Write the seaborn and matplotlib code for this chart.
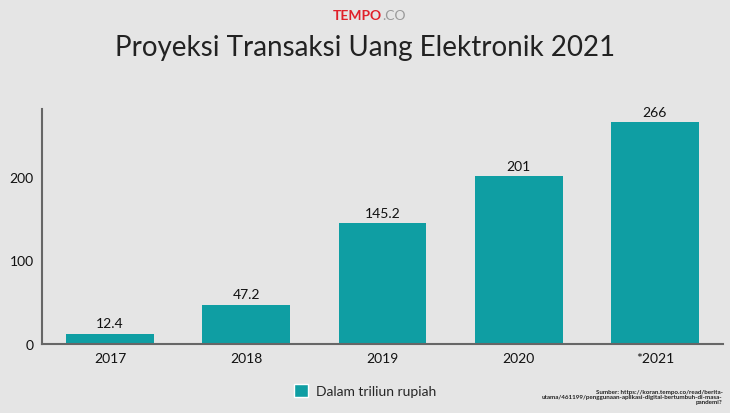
import matplotlib
matplotlib.use('Agg')
import matplotlib.pyplot as plt
import seaborn as sns
import pandas as pd
from matplotlib.patches import Patch

# chart data
years = ['2017', '2018', '2019', '2020', '*2021']
values = [12.4, 47.2, 145.2, 201, 266]
value_labels = ['12.4', '47.2', '145.2', '201', '266']
y_ticks = [0, 100, 200]

bg = '#e5e5e5'
teal = '#0f9ea3'

df = pd.DataFrame({'year': years, 'value': values})

sns.set_theme(style='white')
plt.rcParams['font.family'] = ['Lato', 'DejaVu Sans']

fig = plt.figure(figsize=(7.3, 4.14), dpi=100, facecolor=bg)
ax = fig.add_axes([0.0575, 0.1667, 0.933, 0.567])
ax.set_facecolor(bg)

sns.barplot(data=df, x='year', y='value', color=teal, saturation=1,
            width=0.645, linewidth=0, ax=ax)

for i, (v, lab) in enumerate(zip(values, value_labels)):
    ax.text(i, v + 5, lab, ha='center', va='bottom', fontsize=10, color='#111111')

ax.set_xlim(-0.5, 4.5)
ax.set_ylim(0, 281)
ax.set_yticks(y_ticks)
ax.set_xlabel('')
ax.set_ylabel('')
ax.tick_params(axis='both', labelsize=10, colors='#111111', length=0, pad=6)
for s in ['top', 'right']:
    ax.spines[s].set_visible(False)
for s in ['left', 'bottom']:
    ax.spines[s].set_color('#666666')
    ax.spines[s].set_linewidth(1.5)

# header
fig.text(0.5, 0.885, 'Proyeksi Transaksi Uang Elektronik 2021', ha='center', va='center',
         fontsize=20, color='#222222')
fig.text(0.523, 0.962, 'TEMPO', ha='right', va='center', fontsize=10,
         color='#e0202a', fontweight='bold')
fig.text(0.523, 0.962, '.CO', ha='left', va='center', fontsize=10, color='#999999')

# legend
ax.legend(handles=[Patch(facecolor=teal, label='Dalam triliun rupiah')],
          loc='center', bbox_to_anchor=(0.475, -0.2), frameon=False,
          fontsize=10, handlelength=1.0, handleheight=1.0, handletextpad=0.6)

fig.text(0.99, 0.04, 'Sumber: https://koran.tempo.co/read/berita-\n'
         'utama/461199/penggunaan-aplikasi-digital-bertumbuh-di-masa-\npandemi?',
         ha='right', va='center', fontsize=4.5, color='#222222',
         linespacing=1.1, fontweight='bold')

fig.savefig('out.png', dpi=100, facecolor=bg)
